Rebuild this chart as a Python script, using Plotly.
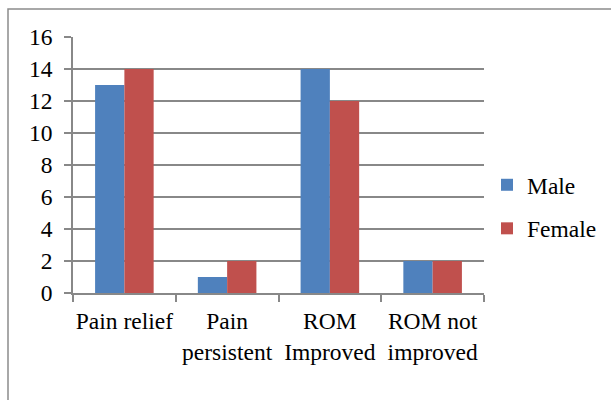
import plotly.graph_objects as go

categories = ["Pain relief", "Pain<br>persistent", "ROM<br>Improved", "ROM not<br>improved"]
male = [13, 1, 14, 2]
female = [14, 2, 12, 2]
y_ticks = [0, 2, 4, 6, 8, 10, 12, 14, 16]

FONT = dict(family="Liberation Serif", size=23.5, color="#000000")
GRID = "#888888"

# plot area in pixels
L, R, T, B = 73, 127, 37, 107
W, H = 611, 400
pw, ph = W - L - R, H - T - B

fig = go.Figure()
fig.add_trace(go.Bar(name="Male", x=categories, y=male, marker_color="#4F81BD",
                     marker_line_width=0, legendgroup="m"))
fig.add_trace(go.Bar(name="Female", x=categories, y=female, marker_color="#C0504D",
                     marker_line_width=0, legendgroup="f"))

# outer chart frame
fig.add_shape(type="rect", xref="paper", yref="paper",
              x0=(8 - L) / pw, x1=(W + 20 - L) / pw,
              y0=-(H + 20 - T - ph) / ph, y1=(T + ph - 9) / ph,
              line=dict(color="#8c8c8c", width=1.5), layer="below")

fig.update_layout(
    width=W, height=H,
    margin=dict(l=L, r=R, t=T, b=B, autoexpand=False),
    paper_bgcolor="white", plot_bgcolor="white",
    barmode="group", bargap=0.43, bargroupgap=0,
    font=FONT,
    showlegend=True,
    legend=dict(xref="container", yref="container",
                x=487 / W, y=1 - 163 / H, xanchor="left", yanchor="top",
                font=FONT, tracegroupgap=10, traceorder="grouped",
                bgcolor="rgba(0,0,0,0)"),
)
fig.update_xaxes(showline=True, linecolor=GRID, linewidth=1.5, ticks="outside",
                 tickson="boundaries", ticklen=7, tickcolor=GRID, tickwidth=1.5,
                 showgrid=False, tickfont=FONT, tickangle=0, automargin=False,
                 ticklabelstandoff=6)
fig.update_yaxes(range=[0, 16], tickvals=y_ticks, showline=True, linecolor=GRID,
                 linewidth=1.5, ticks="outside", ticklen=7, tickcolor=GRID, tickwidth=1.5,
                 showgrid=True, gridcolor=GRID, gridwidth=1.5, zeroline=False,
                 tickfont=FONT, automargin=False, ticklabelstandoff=7)

fig.write_html("out.html")
